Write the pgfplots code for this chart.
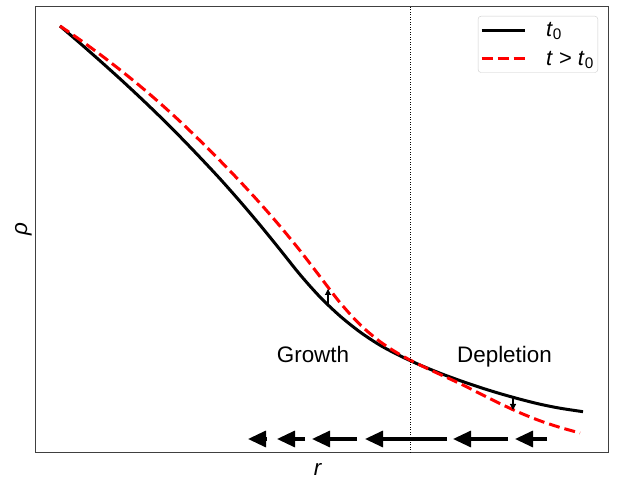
\documentclass[border=0pt]{standalone}
\usepackage{pgfplots}
\pgfplotsset{compat=1.18}
\usepackage{fontspec}
\setmainfont{Liberation Sans}
\usetikzlibrary{arrows.meta}

\begin{document}
\begin{tikzpicture}[font=\fontsize{22.5}{27}\selectfont]
\begin{axis}[
scale only axis,
width=572.5bp, height=446.5bp,
xmin=35.5, xmax=608,
ymin=27.5, ymax=474,
xtick=\empty, ytick=\empty,
clip=false,
axis line style={black!75, line width=0.9bp},
xlabel={\textit{r}},
ylabel={\textit{ρ}},
every axis x label/.style={at={(axis description cs:0.4934,-0.0504)}, anchor=base},
every axis y label/.style={at={(axis description cs:-0.0148,0.5)}, rotate=90, anchor=base},
legend cell align=left,
legend image code/.code={\draw[#1] (0bp,0bp) -- (43bp,0bp);},
legend style={
	at={(axis cs:598,464)}, anchor=north east,
	draw=black!20, rounded corners=3bp, fill=white,
	font=\fontsize{22}{26}\selectfont,
	inner xsep=2bp, inner ysep=4bp,
	nodes={inner sep=2bp},
	row sep=9bp,
	/tikz/every odd column/.append style={column sep=18bp},
},
]
% frame of the whole picture
\path (axis cs:0,0) rectangle (axis cs:625,480);

% t0
\addplot[black, line width=3bp, smooth] coordinates {
	(60,454) (80,436.8) (100,419.2) (120,401.2) (140,382.6) (160,363.4)
	(180,343.4) (200,322.6) (220,301.2) (240,278.6) (260,255) (280,230.4)
	(300,205.4) (320,183) (340,164) (360,148) (380,134.8) (400,124.2)
	(420,115) (440,106.8) (460,99.4) (480,92.6) (500,86.4) (520,80.8)
	(540,75.8) (560,71.8) (583,68.3)
};
\addlegendentry{\textit{t}\textsubscript{0}}

% t > t0
\addplot[red, line width=3bp, dash pattern=on 11bp off 5bp, smooth] coordinates {
	(60,454) (80,440.2) (100,425.6) (120,410.2) (140,394) (160,376.8)
	(180,358.6) (200,339.4) (220,319.4) (240,298.6) (260,276.8) (280,253.8)
	(300,229.4) (320,203.4) (340,177.4) (360,155.4) (380,138.4) (400,125.4)
	(420,115) (440,105.6) (460,96.4) (480,86.4) (500,76.4) (520,67.2)
	(540,59.2) (560,52.6) (580,47)
};
\addlegendentry{\textit{t} > \textit{t}\textsubscript{0}}

% dividing line
\addplot[black, line width=0.8bp, dash pattern=on 1bp off 1.5bp, forget plot]
	coordinates {(410,27.5) (410,474)};

% flow arrows along r
\addplot[black, line width=3.3bp, quiver={u=\thisrow{u}, v=\thisrow{v}},
	-{Triangle[length=18bp, width=16bp]}, forget plot] table {
x   y  u   v
267 41 -19 0
305 41 -28 0
357 41 -45 0
447 41 -82 0
508 41 -55 0
547 41 -32 0
};

% small change arrows
\addplot[black, line width=1.1bp, quiver={u=\thisrow{u}, v=\thisrow{v}},
	-{Triangle[length=6bp, width=6bp]}, forget plot] table {
x   y   u v
328 175 0 16
513 83  0 -13
};

\node[anchor=base] at (axis cs:313,117) {Growth};
\node[anchor=base] at (axis cs:504.5,117) {Depletion};
\end{axis}
\end{tikzpicture}
\end{document}
